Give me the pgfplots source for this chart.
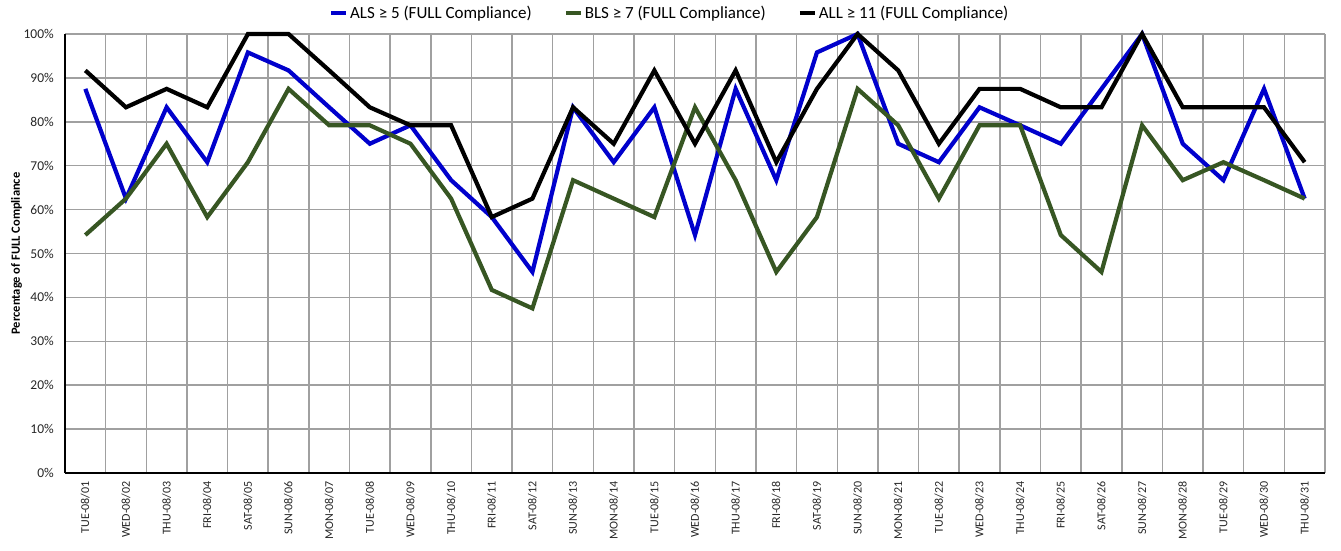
\documentclass[border=0pt]{standalone}
\usepackage{fontspec}
\setmainfont{Carlito}
\usepackage{pgfplots}
\pgfplotsset{compat=1.18}
\usepackage{pgfplotstable}
\definecolor{alsblue}{HTML}{0000CC}
\definecolor{blsgreen}{HTML}{375623}
\definecolor{gridgray}{HTML}{A0A0A0}
\pgfplotstableread{
x als bls all
0 87.5 54.2 91.7
1 62.5 62.5 83.3
2 83.3 75.0 87.5
3 70.8 58.3 83.3
4 95.8 70.8 100
5 91.7 87.5 100
6 83.3 79.2 91.7
7 75.0 79.2 83.3
8 79.2 75.0 79.2
9 66.7 62.5 79.2
10 58.3 41.7 58.3
11 45.8 37.5 62.5
12 83.3 66.7 83.3
13 70.8 62.5 75.0
14 83.3 58.3 91.7
15 54.2 83.3 75.0
16 87.5 66.7 91.7
17 66.7 45.8 70.8
18 95.8 58.3 87.5
19 100 87.5 100
20 75.0 79.2 91.7
21 70.8 62.5 75.0
22 83.3 79.2 87.5
23 79.2 79.2 87.5
24 75.0 54.2 83.3
25 87.5 45.8 83.3
26 100 79.2 100
27 75.0 66.7 83.3
28 66.7 70.8 83.3
29 87.5 66.7 83.3
30 62.5 62.5 70.8
}\data
\begin{document}
\begin{tikzpicture}
\begin{axis}[
  name=ax,
  scale only axis,
  width=1260pt, height=439pt,
  xmin=-0.5, xmax=30.5,
  ymin=0, ymax=100,
  xtick={0,...,30},
  xticklabels={TUE-08/01,WED-08/02,THU-08/03,FRI-08/04,SAT-08/05,SUN-08/06,MON-08/07,TUE-08/08,WED-08/09,THU-08/10,FRI-08/11,SAT-08/12,SUN-08/13,MON-08/14,TUE-08/15,WED-08/16,THU-08/17,FRI-08/18,SAT-08/19,SUN-08/20,MON-08/21,TUE-08/22,WED-08/23,THU-08/24,FRI-08/25,SAT-08/26,SUN-08/27,MON-08/28,TUE-08/29,WED-08/30,THU-08/31},
  minor xtick={-0.5,0.5,1.5,2.5,3.5,4.5,5.5,6.5,7.5,8.5,9.5,10.5,11.5,12.5,13.5,14.5,15.5,16.5,17.5,18.5,19.5,20.5,21.5,22.5,23.5,24.5,25.5,26.5,27.5,28.5,29.5,30.5},
  xminorgrids, xmajorgrids=false, ymajorgrids,
  ytick={0,10,...,100},
  yticklabels={0\%,10\%,20\%,30\%,40\%,50\%,60\%,70\%,80\%,90\%,100\%},
  major tick length=0pt, minor tick length=0pt,
  grid style={gridgray, line width=1.5pt},
  minor grid style={gridgray, line width=1.5pt},
  axis x line*=bottom, axis y line*=left,
  axis line style={-, black, line width=1.5pt},
  x tick label style={rotate=90, anchor=east, font=\fontsize{12}{14}\selectfont, text=black!85, inner sep=1pt},
  xticklabel shift=7pt,
  y tick label style={font=\fontsize{13.5}{15}\selectfont, text=black!85, inner sep=1pt},
  yticklabel shift=10pt,
  ylabel={\bfseries Percentage of FULL Compliance},
  ylabel style={font=\fontsize{12.5}{14}\selectfont},
  ylabel shift=-3pt,
  clip=false,
  legend columns=3,
  legend style={draw=none, fill=none, at={(0.48,1)}, anchor=south, yshift=12pt,
    font=\fontsize{17}{19}\selectfont, /tikz/every even column/.append style={column sep=30pt},
    inner sep=0pt},
  legend image code/.code={\draw[#1, line width=4pt] (0pt,0pt) -- (15pt,0pt);},
  legend cell align=left,
  every axis plot/.append style={line width=4.2pt, line join=miter, mark=none},
]
\addplot[alsblue] table[x=x, y=als] {\data};
\addlegendentry{ALS ≥ 5 (FULL Compliance)}
\addplot[blsgreen] table[x=x, y=bls] {\data};
\addlegendentry{BLS ≥ 7 (FULL Compliance)}
\addplot[black] table[x=x, y=all] {\data};
\addlegendentry{ALL ≥ 11 (FULL Compliance)}
\end{axis}
\pgfresetboundingbox
\path[use as bounding box] ([shift={(-65pt,-77pt)}]ax.south west) rectangle ([shift={(16pt,34pt)}]ax.north east);
\end{tikzpicture}
\end{document}
